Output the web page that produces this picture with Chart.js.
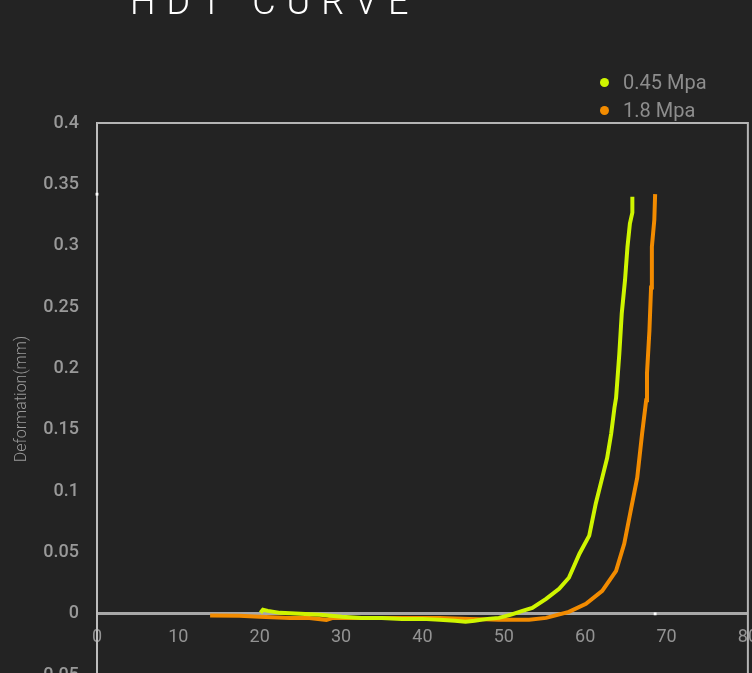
<!DOCTYPE html>
<html>
<head>
<meta charset="utf-8">
<script src="https://cdn.jsdelivr.net/npm/chart.js@4.4.1/dist/chart.umd.min.js"></script>
<style>
  html, body { margin: 0; padding: 0; background: #232323; }
  body { width: 752px; height: 673px; overflow: hidden; position: relative; font-family: Roboto, sans-serif; }
  #wrap { position: absolute; left: 0; top: 0; width: 771px; height: 704px; }
  #title { position: absolute; left: 130px; top: -16px; font-size: 36px; line-height: 36px; font-weight: 300;
           letter-spacing: 11px; color: #fff; white-space: nowrap; }
  #legend { position: absolute; left: 600px; top: 70px; }
  .item { position: relative; height: 27.5px; font-size: 20px; line-height: 24px; color: #8d8d8d; padding-left: 23px; white-space: nowrap; }
  .dot { position: absolute; left: 0; top: 8px; width: 9px; height: 9px; border-radius: 50%; }
</style>
</head>
<body>
<div id="wrap"><canvas id="c" width="771" height="704"></canvas></div>
<div id="title">HDT CURVE</div>
<div id="legend"></div>
<script>
// series
const seriesNames = ['0.45 Mpa', '1.8 Mpa'];
const seriesColors = ['#cff500', '#f28b00'];

// 0.45 Mpa : temperature / deformation
const tempA = [20.1, 20.4, 21.0, 22.5, 25.0, 27.4, 30.1, 32.5, 35.0, 37.5, 40.0, 42.1, 44.0, 45.3, 46.4, 48.0,
  49.4, 50.8, 52.3, 53.5, 55.2, 56.8, 58.0, 59.3, 60.5, 61.3, 62.1, 62.7, 63.2, 63.6, 63.8, 64.2, 64.5, 64.9,
  65.2, 65.5, 65.8, 65.8];
const defA = [0.0008, 0.0033, 0.0024, 0.0008, 0.0, -0.0008, -0.0024, -0.0033, -0.0033, -0.0041, -0.0041, -0.0049,
  -0.0057, -0.0065, -0.0057, -0.0041, -0.0033, -0.0008, 0.0024, 0.0049, 0.0122, 0.0204, 0.0294, 0.049, 0.0637,
  0.0898, 0.111, 0.127, 0.147, 0.168, 0.176, 0.212, 0.245, 0.272, 0.299, 0.318, 0.327, 0.340];

// 1.8 Mpa : temperature / deformation
const tempB = [13.9, 17.5, 20.0, 23.7, 26.1, 28.2, 29.0, 32.3, 37.2, 42.1, 45.8, 49.4, 53.1, 55.2, 58.0, 60.1,
  62.1, 63.8, 64.8, 65.6, 66.4, 67.0, 67.5, 67.6, 67.9, 68.1, 68.2, 68.5, 68.6];
const defB = [-0.0014, -0.0016, -0.0024, -0.0033, -0.0033, -0.0049, -0.0033, -0.0033, -0.0033, -0.0033, -0.0041,
  -0.0049, -0.0049, -0.0033, 0.0016, 0.0082, 0.0188, 0.0351, 0.0571, 0.0841, 0.111, 0.147, 0.174, 0.196, 0.231,
  0.266, 0.299, 0.321, 0.342];

// crosshair marks on the axes
const markX = [0, 68.6];
const markY = [0.342, 0];

const xMin = 0, xMax = 80, xStep = 10;
const yMin = -0.05, yMax = 0.4, yStep = 0.05;

const toPts = (xs, ys) => xs.map((x, i) => ({ x, y: ys[i] }));

// legend
const legend = document.getElementById('legend');
seriesNames.forEach((n, i) => {
  const d = document.createElement('div');
  d.className = 'item';
  d.innerHTML = '<span class="dot" style="background:' + seriesColors[i] + '"></span>' + n;
  legend.appendChild(d);
});

const frame = {
  id: 'frame',
  afterDraw(chart) {
    const { ctx, chartArea: a } = chart;
    ctx.save();
    ctx.strokeStyle = '#b4b4b4';
    ctx.lineWidth = 2;
    ctx.beginPath();
    ctx.moveTo(a.left, a.top);
    ctx.lineTo(a.right, a.top);
    ctx.lineTo(a.right, a.bottom);
    ctx.stroke();
    ctx.restore();
  }
};

new Chart(document.getElementById('c'), {
  type: 'scatter',
  data: {
    datasets: [
      { label: seriesNames[0], data: toPts(tempA, defA), showLine: true, borderColor: seriesColors[0],
        borderWidth: 4, pointRadius: 0, tension: 0 },
      { label: seriesNames[1], data: toPts(tempB, defB), showLine: true, borderColor: seriesColors[1],
        borderWidth: 4, pointRadius: 0, tension: 0 },
      { label: 'mark', data: toPts(markX, markY), pointStyle: 'rect', pointRadius: 2,
        backgroundColor: '#ffffff', borderWidth: 0, clip: false }
    ]
  },
  options: {
    responsive: false,
    animation: false,
    layout: { padding: { top: 123, right: 13, bottom: 16, left: 0 } },
    plugins: { legend: { display: false }, tooltip: { enabled: false } },
    scales: {
      x: {
        type: 'linear',
        position: { y: 0 },
        min: xMin, max: xMax,
        grid: { display: false, drawTicks: false },
        border: { display: true, color: '#a8a8a8', width: 3 },
        ticks: { stepSize: xStep, padding: 13, color: '#939393', font: { family: 'Roboto', size: 18 } }
      },
      y: {
        min: yMin, max: yMax,
        afterFit: s => { s.width = 97; },
        grid: { display: false, drawTicks: false },
        border: { display: true, color: '#bdbdbd', width: 2 },
        ticks: {
          stepSize: yStep, padding: 18, color: '#999999', font: { family: 'Roboto', size: 18, weight: 500 },
          callback: v => String(Math.round(v * 100) / 100)
        },
        title: { display: true, text: 'Deformation(mm)', color: '#9a9a9a', padding: { top: 12, bottom: 0 },
          font: { family: 'Roboto', size: 16, weight: 300 } }
      }
    }
  },
  plugins: [frame]
});
</script>
</body>
</html>
